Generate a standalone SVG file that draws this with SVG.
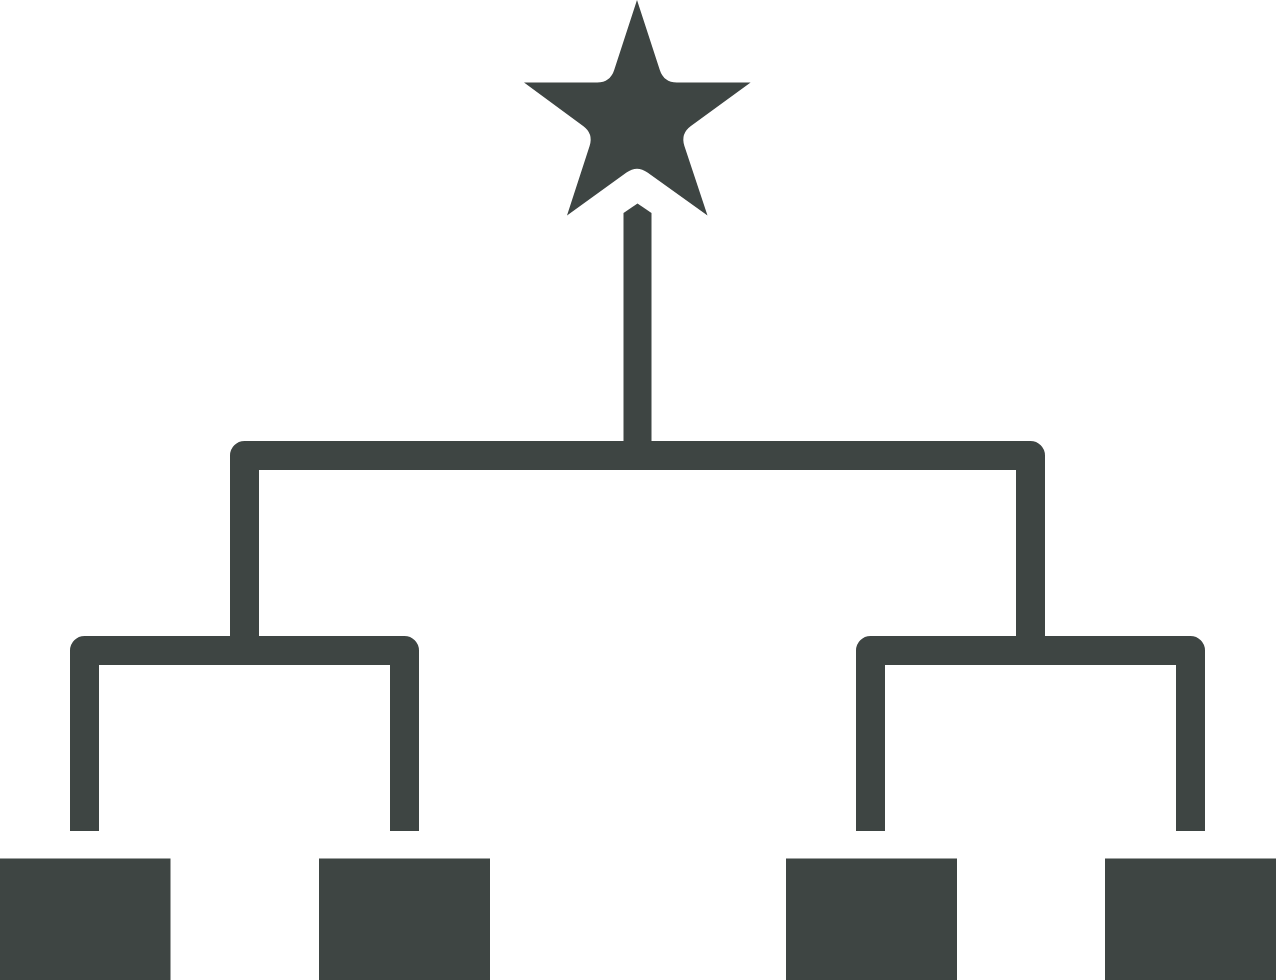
<svg xmlns="http://www.w3.org/2000/svg" width="1276" height="980" viewBox="0 0 1276 980">
<style>
.fill{fill:#3e4543}
.line{fill:none;stroke:#3e4543;stroke-width:29;stroke-linejoin:round;stroke-linecap:butt}
</style>
<rect width="1276" height="980" fill="#ffffff"/>
<g id="star">
<path class="fill" d="M637,0 L659.8,70.1 Q663.8,82.5 676.8,82.5 L750.6,82.5 L690.9,125.9 Q680.4,133.5 684.4,145.9 L707.5,215.5 L647.5,172.6 Q637,165 626.5,172.6 L567,215.5 L589.6,145.9 Q593.6,133.5 583.1,125.9 L524,82.5 L597.2,82.5 Q610.2,82.5 614.2,70.1 Z"/>
</g>
<g id="connectors">
<polygon class="fill" points="623.5,213 637.5,203.5 651.5,213 651.5,456 623.5,456"/>
<path class="line" d="M244.5,650 V455.5 H1030.5 V650"/>
<path class="line" d="M84.5,831 V650.5 H404.5 V831"/>
<path class="line" d="M870.5,831 V650.5 H1190.5 V831"/>
</g>
<g id="box1"><rect class="fill" x="0" y="858.5" width="170.5" height="121.5"/></g>
<g id="box2"><rect class="fill" x="319" y="858.5" width="171" height="121.5"/></g>
<g id="box3"><rect class="fill" x="786" y="858.5" width="171" height="121.5"/></g>
<g id="box4"><rect class="fill" x="1105" y="858.5" width="171" height="121.5"/></g>
</svg>
